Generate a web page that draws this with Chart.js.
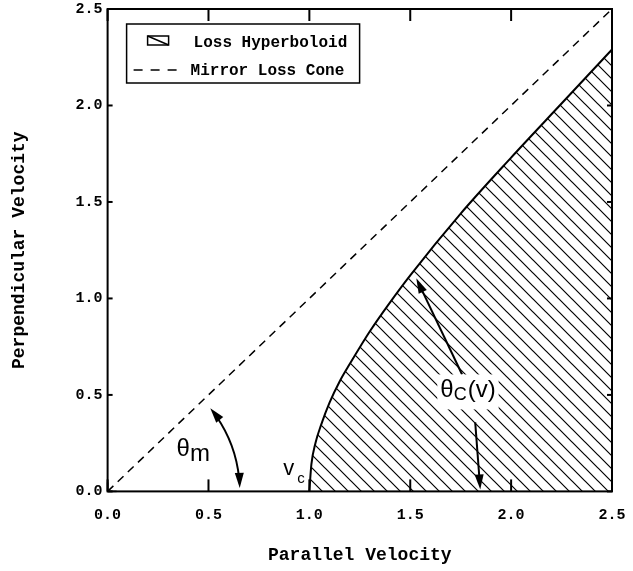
<!DOCTYPE html>
<html>
<head>
<meta charset="utf-8">
<script src="https://cdn.jsdelivr.net/npm/chart.js@4"></script>
<style>
html, body { margin: 0; padding: 0; background: #fff; }
</style>
</head>
<body>
<canvas id="lossChart" width="633" height="571"></canvas>
<script>
// values
var hypX = [1.0, 1.01, 1.03, 1.06, 1.1, 1.15, 1.2, 1.3, 1.4, 1.5, 1.75, 2.0, 2.25, 2.5];
var hypY = [0.0, 0.14, 0.25, 0.35, 0.46, 0.57, 0.66, 0.83, 0.98, 1.12, 1.44, 1.73, 2.01, 2.29];
var coneX = [0.0, 2.5];
var coneY = [0.0, 2.5];
var tickValues = [0.0, 0.5, 1.0, 1.5, 2.0, 2.5];
var seriesLabels = ["Loss Hyperboloid", "Mirror Loss Cone"];
var xTitle = "Parallel Velocity";
var yTitle = "Perpendicular Velocity";

var canvas = document.getElementById("lossChart");
var mono = "Liberation Mono";
var sans = "Liberation Sans";

function hatch(ctx) {
  var s = 13;
  var c = document.createElement("canvas");
  c.width = s; c.height = s;
  var g = c.getContext("2d");
  g.strokeStyle = "#000";
  g.lineWidth = 1.2;
  g.beginPath();
  g.moveTo(0, 0); g.lineTo(s, s);
  g.moveTo(-2, s - 2); g.lineTo(2, s + 2);
  g.moveTo(s - 2, -2); g.lineTo(s + 2, 2);
  g.stroke();
  return ctx.createPattern(c, "repeat");
}

function pts(xs, ys) {
  var out = [];
  for (var i = 0; i < xs.length; i++) out.push({x: xs[i], y: ys[i]});
  return out;
}

function seg(ctx, x0, y0, x1, y1) {
  ctx.beginPath(); ctx.moveTo(x0, y0); ctx.lineTo(x1, y1); ctx.stroke();
}

// filled arrow head, tip at (tx,ty), (dx,dy) unit direction of travel
function head(ctx, tx, ty, dx, dy) {
  var len = 15, w = 9;
  ctx.beginPath();
  ctx.moveTo(tx, ty);
  ctx.lineTo(tx - dx * len - dy * w / 2, ty - dy * len + dx * w / 2);
  ctx.lineTo(tx - dx * len + dy * w / 2, ty - dy * len - dx * w / 2);
  ctx.closePath();
  ctx.fill();
}

function arrow(ctx, x0, y0, x1, y1) {
  var dx = x1 - x0, dy = y1 - y0, d = Math.sqrt(dx * dx + dy * dy);
  dx /= d; dy /= d;
  seg(ctx, x0, y0, x1 - dx * 10, y1 - dy * 10);
  head(ctx, x1, y1, dx, dy);
}

// open arrow head at line end
function openHead(ctx, tx, ty, dx, dy) {
  var len = 9, a = Math.PI / 4;
  var bx = -dx, by = -dy;
  [a, -a].forEach(function (t) {
    var rx = bx * Math.cos(t) - by * Math.sin(t);
    var ry = bx * Math.sin(t) + by * Math.cos(t);
    seg(ctx, tx, ty, tx + rx * len, ty + ry * len);
  });
}

var annot = {
  id: "annot",
  afterDatasetsDraw: function (chart) {
    var ctx = chart.ctx, a = chart.chartArea;
    var xs = chart.scales.x, ys = chart.scales.y;
    var X = function (v) { return xs.getPixelForValue(v); };
    var Y = function (v) { return ys.getPixelForValue(v); };
    ctx.save();
    ctx.strokeStyle = "#000";
    ctx.fillStyle = "#000";

    // frame + inward ticks
    ctx.lineWidth = 2;
    ctx.strokeRect(a.left, a.top, a.right - a.left, a.bottom - a.top);
    tickValues.forEach(function (v) {
      seg(ctx, X(v), a.bottom, X(v), a.bottom - 12);
      seg(ctx, X(v), a.top, X(v), a.top + 12);
      seg(ctx, a.left, Y(v), a.left + 5, Y(v));
      seg(ctx, a.right, Y(v), a.right - 5, Y(v));
    });

    // cone end arrows
    ctx.lineWidth = 1.5;
    var r2 = Math.SQRT1_2;
    openHead(ctx, X(coneX[1]), Y(coneY[1]), r2, -r2);
    openHead(ctx, X(coneX[0]), Y(coneY[0]), -r2, r2);

    // theta_m arc
    ctx.lineWidth = 2;
    var cx = X(0), cy = Y(0);
    var R = X(0.655) - X(0);
    var t1 = -39 * Math.PI / 180, t2 = -1.5 * Math.PI / 180;
    var dlt = 10 / R;
    ctx.beginPath();
    ctx.arc(cx, cy, R, t1 + dlt, t2 - dlt);
    ctx.stroke();
    head(ctx, cx + R * Math.cos(t1), cy + R * Math.sin(t1), Math.sin(t1), -Math.cos(t1));
    head(ctx, cx + R * Math.cos(t2), cy + R * Math.sin(t2), -Math.sin(t2), Math.cos(t2));

    // theta_c arrows
    ctx.lineWidth = 2;
    arrow(ctx, X(1.757), Y(0.606), X(1.530), Y(1.104));
    arrow(ctx, X(1.822), Y(0.358), X(1.847), Y(0.01));

    // theta_c label with white box
    var lx = X(1.649), ly = Y(0.487);
    ctx.font = "24px '" + sans + "'";
    var w1 = ctx.measureText("\u03b8").width;
    var w3 = ctx.measureText("(v)").width;
    ctx.font = "18px '" + sans + "'";
    var w2 = ctx.measureText("C").width;
    ctx.fillStyle = "#fff";
    ctx.fillRect(lx - 3, ly - 23, w1 + w2 + w3 + 7, 35);
    ctx.fillStyle = "#000";
    ctx.textBaseline = "alphabetic";
    ctx.textAlign = "left";
    ctx.font = "24px '" + sans + "'";
    ctx.fillText("\u03b8", lx, ly);
    ctx.font = "18px '" + sans + "'";
    ctx.fillText("C", lx + w1, ly + 3);
    ctx.font = "24px '" + sans + "'";
    ctx.fillText("(v)", lx + w1 + w2 + 1, ly);

    // theta_m label
    var mx = X(0.342), my = Y(0.181);
    ctx.font = "24px '" + sans + "'";
    ctx.fillText("\u03b8", mx, my);
    ctx.fillText("m", mx + ctx.measureText("\u03b8").width, my + 5);

    // v_c label
    var vx = X(0.871), vy = Y(0.083);
    ctx.font = "22px '" + sans + "'";
    ctx.fillText("v", vx, vy);
    var vw = ctx.measureText("v").width;
    ctx.font = "15px '" + sans + "'";
    ctx.fillText("c", vx + vw + 3, vy + 8);

    // legend
    var bx = a.left + 19, by = a.top + 15;
    ctx.lineWidth = 1.5;
    ctx.strokeRect(bx, by, 233, 59);
    ctx.lineWidth = 1.5;
    ctx.strokeRect(bx + 21, by + 12, 21, 9);
    seg(ctx, bx + 21, by + 12, bx + 42, by + 21);
    ctx.setLineDash([9, 8]);
    seg(ctx, bx + 7, by + 46, bx + 52, by + 46);
    ctx.setLineDash([]);
    ctx.font = "bold 16px '" + mono + "'";
    ctx.fillText(seriesLabels[0], bx + 67, by + 23);
    ctx.fillText(seriesLabels[1], bx + 64, by + 51);

    ctx.restore();
  }
};

var axisFont = {family: mono, weight: "bold", size: 15};
var titleFont = {family: mono, weight: "bold", size: 18};

new Chart(canvas, {
  type: "scatter",
  data: {
    datasets: [{
      label: seriesLabels[0],
      data: pts(hypX, hypY),
      showLine: true,
      borderColor: "#000",
      borderWidth: 2,
      pointRadius: 0,
      cubicInterpolationMode: "monotone",
      fill: "origin",
      backgroundColor: hatch(canvas.getContext("2d"))
    }, {
      label: seriesLabels[1],
      data: pts(coneX, coneY),
      showLine: true,
      borderColor: "#000",
      borderWidth: 1.5,
      borderDash: [8, 6],
      pointRadius: 0,
      fill: false
    }]
  },
  options: {
    responsive: false,
    animation: false,
    layout: {padding: {top: 9, right: 21, left: 0, bottom: 0}},
    plugins: {legend: {display: false}, tooltip: {enabled: false}},
    scales: {
      x: {
        type: "linear", min: 0, max: 2.5,
        afterBuildTicks: function (s) { s.ticks = tickValues.map(function (v) { return {value: v}; }); },
        afterFit: function (s) { s.paddingRight = 0; s.paddingLeft = 0; },
        grid: {display: false, drawTicks: false},
        border: {display: false},
        ticks: {padding: 15, color: "#000", font: axisFont, maxRotation: 0, autoSkip: false,
          callback: function (v) { return v.toFixed(1); }},
        title: {display: true, text: xTitle, color: "#000", font: titleFont, padding: {top: 5, bottom: 5}}
      },
      y: {
        type: "linear", min: 0, max: 2.5,
        afterBuildTicks: function (s) { s.ticks = tickValues.map(function (v) { return {value: v}; }); },
        afterFit: function (s) { s.paddingTop = 0; s.paddingBottom = 0; },
        grid: {display: false, drawTicks: false},
        border: {display: false},
        ticks: {padding: 5, color: "#000", font: axisFont, autoSkip: false,
          callback: function (v) { return v.toFixed(1); }},
        title: {display: true, text: yTitle, color: "#000", font: titleFont, padding: {top: 9, bottom: 40}}
      }
    }
  },
  plugins: [annot]
});
</script>
</body>
</html>
